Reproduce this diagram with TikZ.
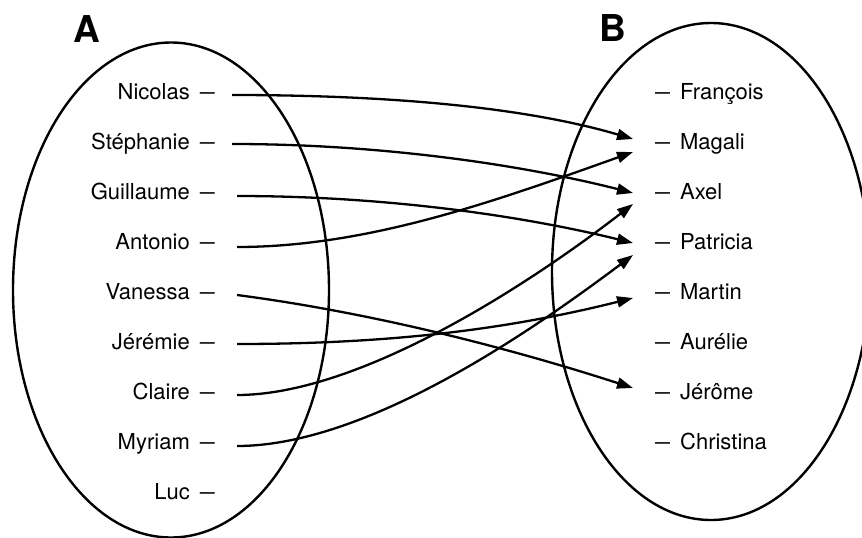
\documentclass[tikz,border=0pt]{standalone}
\usepackage{fontspec}
\setmainfont{TeX Gyre Heros}
\usetikzlibrary{arrows.meta}
\newcommand\dshmark{\scalebox{0.68}[1]{—}}
\tikzset{
  setshape/.style={line width=2.4pt},
  lname/.style={anchor=base east, inner sep=0pt, font=\fontsize{22}{26}\selectfont},
  rname/.style={anchor=base west, inner sep=0pt, font=\fontsize{22}{26}\selectfont},
  setlabel/.style={anchor=base, inner sep=0pt, font=\fontsize{37}{40}\selectfont\bfseries},
  link/.style={line width=2.3pt, -{Triangle[length=16pt,width=11pt]}}
}
\begin{document}
\begin{tikzpicture}[x=1pt,y=-1pt]
\useasboundingbox (0,0) rectangle (862,538);
\clip (0,0) rectangle (862,538);
% sets
\draw[setshape] (171,290) ellipse [x radius=158pt, y radius=247.5pt];
\draw[setshape] (711,271.5) ellipse [x radius=159pt, y radius=248.5pt];
\node[setlabel] (labA) at (87,42) {A};
\node[setlabel] (labB) at (612.5,41) {B};
% left names
\node[lname] (a1) at (215,99) {Nicolas\hspace{10pt}\dshmark};
\node[lname] (a2) at (215,149) {Stéphanie\hspace{10pt}\dshmark};
\node[lname] (a3) at (215,199) {Guillaume\hspace{10pt}\dshmark};
\node[lname] (a4) at (215,249) {Antonio\hspace{10pt}\dshmark};
\node[lname] (a5) at (215,299) {Vanessa\hspace{10pt}\dshmark};
\node[lname] (a6) at (215,349) {Jérémie\hspace{10pt}\dshmark};
\node[lname] (a7) at (215,399) {Claire\hspace{10pt}\dshmark};
\node[lname] (a8) at (215,449) {Myriam\hspace{10pt}\dshmark};
\node[lname] (a9) at (215,499) {Luc\hspace{10pt}\dshmark};
% right names
\node[rname] (b1) at (655,99) {\dshmark\hspace{10pt}François};
\node[rname] (b2) at (655,149) {\dshmark\hspace{10pt}Magali};
\node[rname] (b3) at (655,199) {\dshmark\hspace{10pt}Axel};
\node[rname] (b4) at (655,249) {\dshmark\hspace{10pt}Patricia};
\node[rname] (b5) at (655,299) {\dshmark\hspace{10pt}Martin};
\node[rname] (b6) at (655,349) {\dshmark\hspace{10pt}Aurélie};
\node[rname] (b7) at (655,399) {\dshmark\hspace{10pt}Jérôme};
\node[rname] (b8) at (655,449) {\dshmark\hspace{10pt}Christina};
% connector ends
\coordinate (s1) at ([shift={(17,-4)}]a1.base east);
\coordinate (s2) at ([shift={(17,-5)}]a2.base east);
\coordinate (s3) at ([shift={(22,-3)}]a3.base east);
\coordinate (s4) at ([shift={(22,-2)}]a4.base east);
\coordinate (s5) at ([shift={(22,-4)}]a5.base east);
\coordinate (s6) at ([shift={(22,-5)}]a6.base east);
\coordinate (s7) at ([shift={(22,-4)}]a7.base east);
\coordinate (s8) at ([shift={(22,-3)}]a8.base east);
\coordinate (t1) at ([shift={(-22,-10)}]b2.base west);
\coordinate (t2) at ([shift={(-22,3)}]b2.base west);
\coordinate (t3) at ([shift={(-22,-6)}]b3.base west);
\coordinate (t4) at ([shift={(-22,5)}]b3.base west);
\coordinate (t5) at ([shift={(-22,-6)}]b4.base west);
\coordinate (t6) at ([shift={(-22,6)}]b4.base west);
\coordinate (t7) at ([shift={(-22,-1)}]b5.base west);
\coordinate (t8) at ([shift={(-22,-11)}]b7.base west);
% links
\draw[link] (s1) .. controls +(150,0) and +(-112,-33) .. (t1);
\draw[link] (s2) .. controls +(150,0) and +(-110,-28) .. (t3);
\draw[link] (s3) .. controls +(150,0) and +(-110,-27) .. (t5);
\draw[link] (s4) .. controls +(130,0) and +(-140,50) .. (t2);
\draw[link] (s5) .. controls +(130,17) and +(-130,-42) .. (t8);
\draw[link] (s6) .. controls +(160,0) and +(-120,30) .. (t7);
\draw[link] (s7) .. controls +(120,0) and +(-110,85) .. (t4);
\draw[link] (s8) .. controls +(130,0) and +(-100,75) .. (t6);
\end{tikzpicture}
\end{document}
